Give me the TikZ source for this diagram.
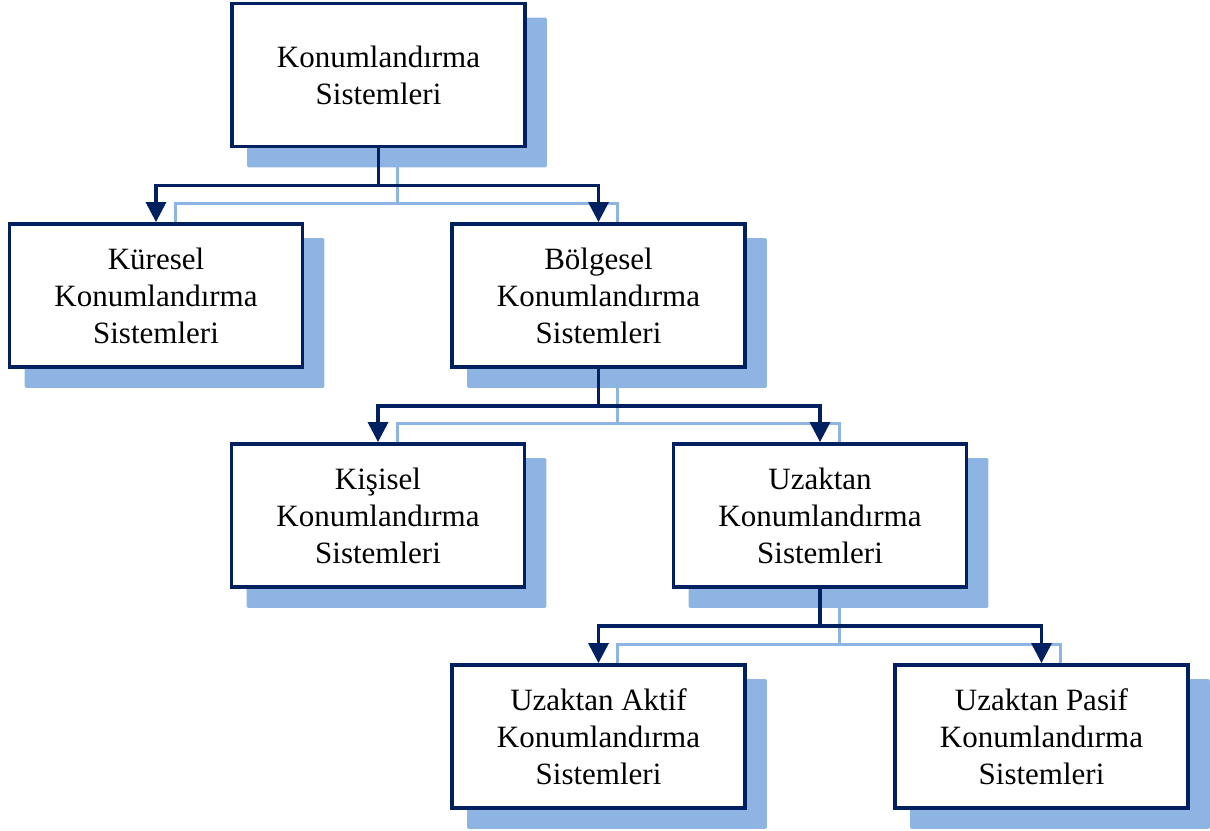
\documentclass[tikz,border=0pt]{standalone}
\usepackage{fontspec}
\setmainfont{Liberation Serif}
\usetikzlibrary{arrows.meta,calc}
\definecolor{navy}{RGB}{0,32,96}
\definecolor{shadowblue}{RGB}{142,180,227}
\pgfdeclarelayer{background}
\pgfsetlayers{background,main}
\tikzset{
  box/.style={draw=navy, line width=3.8pt, fill=white, minimum width=293pt, minimum height=143pt,
    align=center, inner sep=0pt, font=\fontsize{31}{37}\selectfont, text=black},
  darkline/.style={draw=navy, line width=3.3pt},
  darkarrow/.style={darkline, -{Triangle[length=20pt,width=20pt]}},
  lightline/.style={draw=shadowblue, line width=3pt},
  boxshadow/.style={fill=shadowblue, rounded corners=1.5pt},
}
\begin{document}
\begin{tikzpicture}[x=1pt,y=-1pt]
\useasboundingbox (0,0) rectangle (1210,830);
\node[box] (top) at (378.5,75) {Konumlandırma\\Sistemleri};
\node[box] (kur) at (156,295.5) {Küresel\\Konumlandırma\\Sistemleri};
\node[box] (bol) at (598.5,295.5) {Bölgesel\\Konumlandırma\\Sistemleri};
\node[box] (kis) at (378,515.5) {Kişisel\\Konumlandırma\\Sistemleri};
\node[box] (uza) at (820,515.5) {Uzaktan\\Konumlandırma\\Sistemleri};
\node[box] (akt) at (598.5,736.5) {Uzaktan Aktif\\Konumlandırma\\Sistemleri};
\node[box] (pas) at (1041.5,736.5) {Uzaktan Pasif\\Konumlandırma\\Sistemleri};
\begin{pgfonlayer}{background}
  \foreach \n in {top,kur,bol,kis,uza,akt,pas}
    \fill[boxshadow] ([shift={(17,16)}]\n.north west) rectangle ([shift={(20,19)}]\n.south east);
  % light (shadow) connectors
  \draw[lightline] ($(top.south)+(19,0)$) |- ($(kur.north)+(19,-19)$) -- ($(kur.north)+(19,0)$);
  \draw[lightline] ($(top.south)+(19,0)$) |- ($(bol.north)+(19,-19)$) -- ($(bol.north)+(19,0)$);
  \draw[lightline] ($(bol.south)+(19,0)$) |- ($(kis.north)+(19,-19)$) -- ($(kis.north)+(19,0)$);
  \draw[lightline] ($(bol.south)+(19,0)$) |- ($(uza.north)+(19,-19)$) -- ($(uza.north)+(19,0)$);
  \draw[lightline] ($(uza.south)+(19,0)$) |- ($(akt.north)+(19,-19)$) -- ($(akt.north)+(19,0)$);
  \draw[lightline] ($(uza.south)+(19,0)$) |- ($(pas.north)+(19,-19)$) -- ($(pas.north)+(19,0)$);
\end{pgfonlayer}
% dark connectors
\draw[darkarrow] (top.south) -- ++(0,37) -| (kur.north);
\draw[darkarrow] (top.south) -- ++(0,37) -| (bol.north);
\draw[darkarrow] (bol.south) -- ++(0,37) -| (kis.north);
\draw[darkarrow] (bol.south) -- ++(0,37) -| (uza.north);
\draw[darkarrow] (uza.south) -- ++(0,37) -| (akt.north);
\draw[darkarrow] (uza.south) -- ++(0,37) -| (pas.north);
\end{tikzpicture}
\end{document}
